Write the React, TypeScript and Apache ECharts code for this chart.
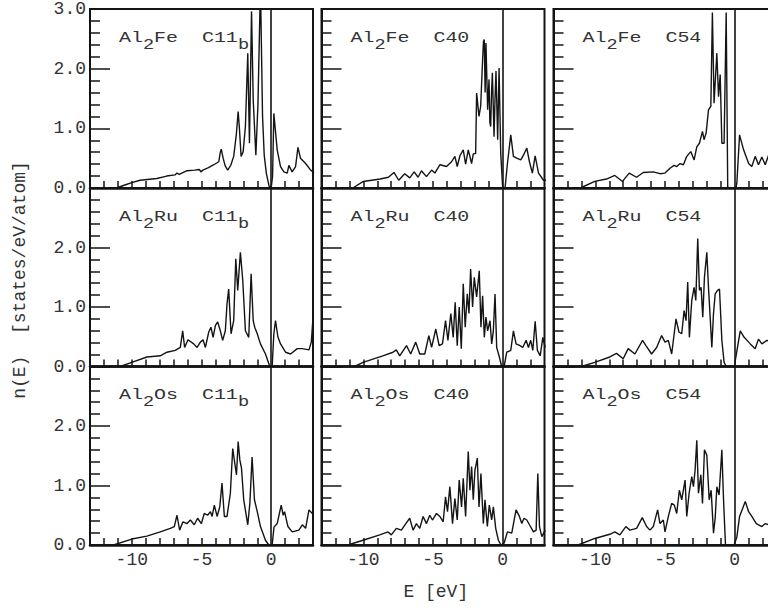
import { useEffect, useRef } from 'react';
import * as echarts from 'echarts';

// ---- data: [E (eV), n(E) (states/eV/atom)] ----
const feC11b: number[][] = [[-11.1,0],[-10.5,0.05],[-10,0.09],[-9.4,0.13],[-8.2,0.16],[-7.5,0.2],[-6.9,0.22],[-6.76,0.25],[-6.6,0.23],[-6.04,0.29],[-5.5,0.3],[-5.15,0.31],[-5.05,0.27],[-4.9,0.3],[-4.5,0.34],[-4.12,0.39],[-3.76,0.44],[-3.65,0.6],[-3.58,0.65],[-3.45,0.5],[-3.3,0.37],[-3.12,0.3],[-2.9,0.38],[-2.69,0.53],[-2.5,0.9],[-2.37,1.28],[-2.28,1.0],[-2.16,0.53],[-2.01,0.61],[-1.85,1.03],[-1.68,2.26],[-1.56,0.75],[-1.41,2.96],[-1.29,1.48],[-1.1,0.55],[-0.95,1.4],[-0.77,3.4],[-0.62,1.2],[-0.5,0.55],[-0.35,0.25],[-0.15,0.03],[0,0],[0.1,0.2],[0.19,1.25],[0.43,0.64],[0.67,0.36],[0.91,0.27],[1.15,0.25],[1.27,0.38],[1.5,0.27],[1.75,0.36],[1.92,0.68],[2.1,0.5],[2.47,0.41],[2.83,0.3],[3.07,0.25]];
const feC40: number[][] = [[-10.75,0],[-10.0,0.11],[-8.8,0.15],[-8.2,0.18],[-7.8,0.26],[-7.46,0.13],[-7.03,0.24],[-6.67,0.17],[-6.35,0.27],[-6.07,0.18],[-5.83,0.29],[-5.47,0.19],[-5.1,0.3],[-4.87,0.25],[-4.5,0.39],[-4.03,0.36],[-3.67,0.44],[-3.43,0.53],[-3.26,0.36],[-3.07,0.54],[-2.83,0.64],[-2.66,0.4],[-2.47,0.64],[-2.23,0.41],[-2.11,0.57],[-1.94,0.58],[-1.87,1.59],[-1.7,1.2],[-1.58,1.37],[-1.44,2.15],[-1.38,2.45],[-1.32,2.49],[-1.26,1.6],[-1.2,2.43],[-1.08,1.31],[-0.98,1.82],[-0.92,1.1],[-0.86,1.03],[-0.8,1.6],[-0.74,1.93],[-0.62,0.86],[-0.55,1.5],[-0.48,1.96],[-0.36,0.81],[-0.26,2.01],[-0.14,0.58],[0,0],[0.17,0],[0.34,0.41],[0.58,0.89],[0.77,0.53],[1.0,0.5],[1.3,0.47],[1.49,0.55],[1.73,0.67],[1.92,0.44],[2.13,0.25],[2.33,0.54],[2.57,0.25],[2.93,0.13],[3.1,0.13]];
const feC54: number[][] = [[-11.07,0],[-10.04,0.11],[-9.2,0.15],[-8.6,0.21],[-8.05,0.11],[-7.57,0.25],[-7.04,0.18],[-6.56,0.26],[-5.84,0.27],[-5.36,0.24],[-5.0,0.25],[-4.64,0.33],[-4.35,0.38],[-4.16,0.36],[-3.92,0.41],[-3.68,0.39],[-3.44,0.53],[-3.15,0.61],[-2.91,0.47],[-2.72,0.69],[-2.53,0.75],[-2.31,0.95],[-2.2,0.81],[-2.05,0.92],[-1.88,1.31],[-1.71,1.37],[-1.6,2.94],[-1.48,1.42],[-1.28,2.26],[-1.16,1.53],[-1.04,1.9],[-0.92,0.75],[-0.76,0.75],[-0.61,2.94],[-0.5,0.02],[-0.44,0],[0.1,0],[0.16,0.1],[0.35,0.89],[0.64,0.64],[1.0,0.41],[1.23,0.36],[1.47,0.53],[1.71,0.39],[1.95,0.52],[2.19,0.39],[2.43,0.55],[2.8,0.5],[3.1,0.48]];
const ruC11b: number[][] = [[-10.84,0],[-10,0.07],[-8.92,0.16],[-7.96,0.18],[-7.48,0.24],[-6.88,0.27],[-6.52,0.32],[-6.35,0.6],[-6.21,0.32],[-5.97,0.45],[-5.56,0.38],[-5.32,0.32],[-5.08,0.41],[-4.89,0.45],[-4.72,0.32],[-4.48,0.58],[-4.32,0.66],[-4.17,0.49],[-4.0,0.69],[-3.84,0.75],[-3.65,0.6],[-3.48,0.44],[-3.29,0.6],[-3.17,1.05],[-3.05,1.3],[-2.88,0.55],[-2.69,0.77],[-2.54,1.81],[-2.4,1.28],[-2.21,1.92],[-2.04,1.45],[-1.85,0.6],[-1.61,0.49],[-1.44,1.56],[-1.29,0.77],[-1.18,0.66],[-1.0,0.55],[-0.77,0.38],[-0.41,0.21],[-0.1,0],[0.07,0],[0.19,0.55],[0.31,0.77],[0.48,0.5],[0.67,0.38],[1.03,0.24],[1.39,0.21],[1.87,0.3],[2.23,0.3],[2.71,0.28],[2.88,0.41],[3.02,0.89]];
const ruC40: number[][] = [[-10.62,0],[-10.02,0.07],[-8.6,0.18],[-7.87,0.24],[-7.63,0.28],[-7.39,0.18],[-6.9,0.35],[-6.6,0.21],[-6.24,0.41],[-5.95,0.21],[-5.59,0.21],[-5.3,0.52],[-5.1,0.32],[-4.8,0.63],[-4.56,0.35],[-4.32,0.38],[-4.1,0.77],[-3.93,0.44],[-3.72,0.89],[-3.55,0.49],[-3.41,1.08],[-3.26,0.35],[-3.12,1.0],[-2.97,0.3],[-2.83,1.39],[-2.69,0.66],[-2.54,1.22],[-2.42,0.89],[-2.3,1.64],[-2.16,1.0],[-2.04,1.5],[-1.87,1.17],[-1.68,1.61],[-1.56,0.66],[-1.44,1.19],[-1.32,0.49],[-1.2,0.83],[-1.08,0.6],[-0.91,0.77],[-0.79,0.38],[-0.67,0.6],[-0.55,1.22],[-0.43,0.32],[-0.24,0.16],[-0.07,0],[0.1,0],[0.29,0.24],[0.58,0.27],[0.77,0.6],[0.96,0.38],[1.25,0.35],[1.44,0.32],[1.68,0.44],[1.85,0.32],[2.01,0.44],[2.16,0.27],[2.33,0.76],[2.49,0.27],[2.69,0.18],[2.88,0.49],[3.05,0.32]];
const ruC54: number[][] = [[-11.0,0],[-10.04,0.07],[-8.96,0.16],[-8.48,0.22],[-8.0,0.13],[-7.64,0.3],[-7.16,0.21],[-6.61,0.44],[-6.37,0.35],[-5.96,0.21],[-5.6,0.32],[-5.24,0.52],[-5.0,0.41],[-4.76,0.44],[-4.52,0.21],[-4.21,0.8],[-4.0,0.58],[-3.8,0.55],[-3.63,0.94],[-3.49,0.77],[-3.37,1.42],[-3.25,0.49],[-3.08,1.11],[-2.91,1.33],[-2.79,1.11],[-2.65,2.15],[-2.53,1.28],[-2.41,1.33],[-2.29,0.83],[-2.17,1.5],[-2.0,1.92],[-1.88,1.33],[-1.76,0.83],[-1.64,0.32],[-1.52,0.89],[-1.4,1.22],[-1.23,1.28],[-1.09,1.3],[-0.92,0.44],[-0.76,0.07],[-0.6,0],[0.0,0],[0.04,0.1],[0.4,0.6],[0.68,0.49],[1.12,0.38],[1.47,0.3],[1.71,0.46],[1.95,0.38],[2.31,0.44],[2.7,0.4],[3.1,0.42]];
const osC11b: number[][] = [[-11.32,0],[-10,0.1],[-8.92,0.15],[-7.96,0.22],[-7.24,0.28],[-6.95,0.31],[-6.76,0.5],[-6.57,0.25],[-6.33,0.39],[-6.04,0.36],[-5.8,0.42],[-5.52,0.34],[-5.28,0.45],[-5.01,0.36],[-4.8,0.53],[-4.56,0.5],[-4.36,0.56],[-4.24,0.48],[-4.08,0.67],[-3.88,0.48],[-3.69,0.64],[-3.53,1.04],[-3.36,0.48],[-3.17,0.48],[-2.93,0.87],[-2.76,1.62],[-2.61,1.37],[-2.49,1.18],[-2.37,1.74],[-2.25,1.43],[-2.13,1.29],[-1.97,0.76],[-1.68,0.34],[-1.53,0.7],[-1.37,1.48],[-1.2,0.76],[-1.0,0.56],[-0.77,0.31],[-0.41,0.08],[-0.17,0],[0.07,0],[0.2,0.3],[0.43,0.36],[0.72,0.67],[0.86,0.5],[0.96,0.56],[1.2,0.31],[1.51,0.22],[1.99,0.25],[2.23,0.34],[2.47,0.28],[2.71,0.59],[2.95,0.53],[3.07,0.53]];
const osC40: number[][] = [[-11.1,0],[-10.02,0.08],[-8.82,0.17],[-8.23,0.22],[-7.99,0.17],[-7.63,0.28],[-7.27,0.25],[-6.95,0.36],[-6.67,0.45],[-6.43,0.25],[-6.19,0.36],[-5.95,0.28],[-5.71,0.48],[-5.47,0.36],[-5.23,0.5],[-5.04,0.42],[-4.75,0.53],[-4.51,0.48],[-4.27,0.39],[-4.1,0.81],[-3.96,0.56],[-3.79,0.98],[-3.6,0.36],[-3.43,0.78],[-3.26,0.42],[-3.12,1.09],[-2.95,0.64],[-2.83,1.12],[-2.66,0.48],[-2.47,1.57],[-2.35,0.92],[-2.23,1.32],[-2.11,0.76],[-1.99,1.26],[-1.82,1.46],[-1.7,0.64],[-1.56,1.2],[-1.39,0.36],[-1.27,0.76],[-1.1,0.31],[-0.96,0.67],[-0.79,0.42],[-0.67,0.64],[-0.5,0.28],[-0.31,0.08],[-0.12,0],[0.1,0.03],[0.34,0.22],[0.65,0.2],[0.96,0.59],[1.2,0.48],[1.37,0.36],[1.53,0.45],[1.73,0.42],[1.92,0.34],[2.21,0.22],[2.4,0.25],[2.52,1.2],[2.64,0.31],[2.81,0.14],[3.05,0.25]];
const osC54: number[][] = [[-11.23,0],[-10.04,0.11],[-8.96,0.18],[-8.6,0.22],[-8.24,0.17],[-7.81,0.31],[-7.52,0.25],[-7.04,0.28],[-6.63,0.46],[-6.32,0.31],[-6.08,0.25],[-5.84,0.31],[-5.53,0.59],[-5.36,0.36],[-5.12,0.42],[-5.0,0.22],[-4.76,0.48],[-4.52,0.7],[-4.33,0.67],[-4.16,0.53],[-3.97,0.92],[-3.8,0.76],[-3.56,1.09],[-3.44,0.48],[-3.27,0.87],[-3.08,1.15],[-2.96,0.98],[-2.84,1.26],[-2.72,1.76],[-2.6,0.87],[-2.43,1.18],[-2.31,0.7],[-2.17,1.6],[-2.0,1.51],[-1.83,0.76],[-1.69,0.92],[-1.52,0.2],[-1.4,0.45],[-1.28,0.98],[-1.12,0.84],[-0.92,1.6],[-0.8,0.76],[-0.66,0],[-0.04,0],[0.16,0.14],[0.35,0.48],[0.76,0.73],[1.0,0.56],[1.23,0.48],[1.55,0.36],[1.95,0.31],[2.19,0.36],[2.6,0.33],[3.1,0.35]];

const metals = ['Fe', 'Ru', 'Os'];
const structures = ['C11', 'C40', 'C54'];
const structureSubs = ['b', '', ''];
const panelData = [
  [feC11b, feC40, feC54],
  [ruC11b, ruC40, ruC54],
  [osC11b, osC40, osC54],
];

const eLabelValues = [-10, -5, 0];
const eTickValues = [-12, -11, -10, -9, -8, -7, -6, -5, -4, -3, -2, -1, 1, 2];
const eMin = -13;
const eMax = 3;
const nMin = 0;
const nMax = 3;
const nInterval = 1;
const fermiLevel = 0;

const xTitle = 'E [eV]';
const yTitle = 'n(E)  [states/eV/atom]';

// ---- layout & style ----
const LINE = '#141414';
const TEXT = '#333333';
const FONT = '"Liberation Mono", "DejaVu Sans Mono", monospace';
const gridLefts = [90, 321.5, 553.5];
const gridWidth = 223;
const gridTops = [9, 188, 366.5];
const gridHeights = [179, 178.5, 178.5];

export default function App() {
  const ref = useRef<HTMLDivElement>(null);

  useEffect(() => {
    if (!ref.current) return;
    const chart = echarts.init(ref.current, undefined, { renderer: 'svg' });

    const grids: any[] = [];
    const xAxes: any[] = [];
    const yAxes: any[] = [];
    const series: any[] = [];
    const graphics: any[] = [];

    for (let r = 0; r < 3; r++) {
      for (let c = 0; c < 3; c++) {
        const i = r * 3 + c;
        grids.push({
          left: gridLefts[c],
          top: gridTops[r],
          width: gridWidth,
          height: gridHeights[r],
          show: true,
          borderColor: LINE,
          borderWidth: 2,
          backgroundColor: 'transparent',
          outerBoundsMode: 'none',
        });
        xAxes.push({
          gridIndex: i,
          type: 'value',
          min: eMin,
          max: eMax,
          position: 'bottom',
          axisLine: { show: true, onZero: false, lineStyle: { color: LINE, width: 2.6 } },
          axisTick: { show: true, inside: true, length: 7, customValues: eTickValues, lineStyle: { color: LINE, width: 1.5 } },
          axisLabel: {
            show: r === 2,
            customValues: eLabelValues,
            margin: 6,
            fontFamily: FONT,
            fontSize: 18,
            color: TEXT,
          },
          splitLine: { show: false },
        });
        yAxes.push({
          gridIndex: i,
          type: 'value',
          min: nMin,
          max: nMax,
          interval: nInterval,
          position: 'left',
          axisLine: { show: true, onZero: false, lineStyle: { color: LINE, width: 2 } },
          axisTick: { show: true, inside: true, length: 20, lineStyle: { color: LINE, width: 1.5 } },
          minorTick: { show: true, splitNumber: 5, length: 10, lineStyle: { color: LINE, width: 1.5 } },
          axisLabel: {
            show: c === 0,
            margin: 4,
            fontFamily: FONT,
            fontSize: 18,
            color: TEXT,
            formatter: (v: number) => (r > 0 && v === nMax ? '' : v.toFixed(1)),
          },
          splitLine: { show: false },
        });
        series.push({
          type: 'line',
          xAxisIndex: i,
          yAxisIndex: i,
          data: panelData[r][c],
          showSymbol: false,
          lineStyle: { color: LINE, width: 1.4 },
          markLine: {
            silent: true,
            symbol: ['none', 'none'],
            label: { show: false },
            lineStyle: { color: LINE, width: 1.6, type: 'solid' },
            data: [{ xAxis: fermiLevel }],
          },
        });
        const sub = structureSubs[c];
        graphics.push({
          type: 'text',
          x: gridLefts[c] + 29,
          y: gridTops[r] + 21,
          scaleX: 1.33,
          style: {
            text: `{a|Al}{s|2}{a|${metals[r]}  ${structures[c]}}` + (sub ? `{s|${sub}}` : ''),
            align: 'left',
            verticalAlign: 'top',
            rich: {
              a: { fontFamily: FONT, fontSize: 15, lineHeight: 15, verticalAlign: 'top', fill: TEXT },
              s: { fontFamily: FONT, fontSize: 14, lineHeight: 14, verticalAlign: 'top', padding: [8, 0, 0, 0], fill: TEXT },
            },
          },
        });
      }
    }

    graphics.push({
      type: 'text',
      x: 435.8,
      y: 592,
      style: { text: xTitle, fontFamily: FONT, fontSize: 18, fill: TEXT, align: 'center', verticalAlign: 'middle' },
    });
    graphics.push({
      type: 'text',
      x: 20,
      y: 280,
      rotation: Math.PI / 2,
      style: { text: yTitle, fontFamily: FONT, fontSize: 18, fill: TEXT, align: 'center', verticalAlign: 'middle' },
    });

    chart.setOption({
      animation: false,
      backgroundColor: '#ffffff',
      grid: grids,
      xAxis: xAxes,
      yAxis: yAxes,
      series,
      graphic: graphics,
    });

    return () => chart.dispose();
  }, []);

  return (
    <div
      ref={ref}
      style={{ position: 'fixed', left: 0, top: 0, width: 768, height: 609, overflow: 'hidden', background: '#fff' }}
    />
  );
}
